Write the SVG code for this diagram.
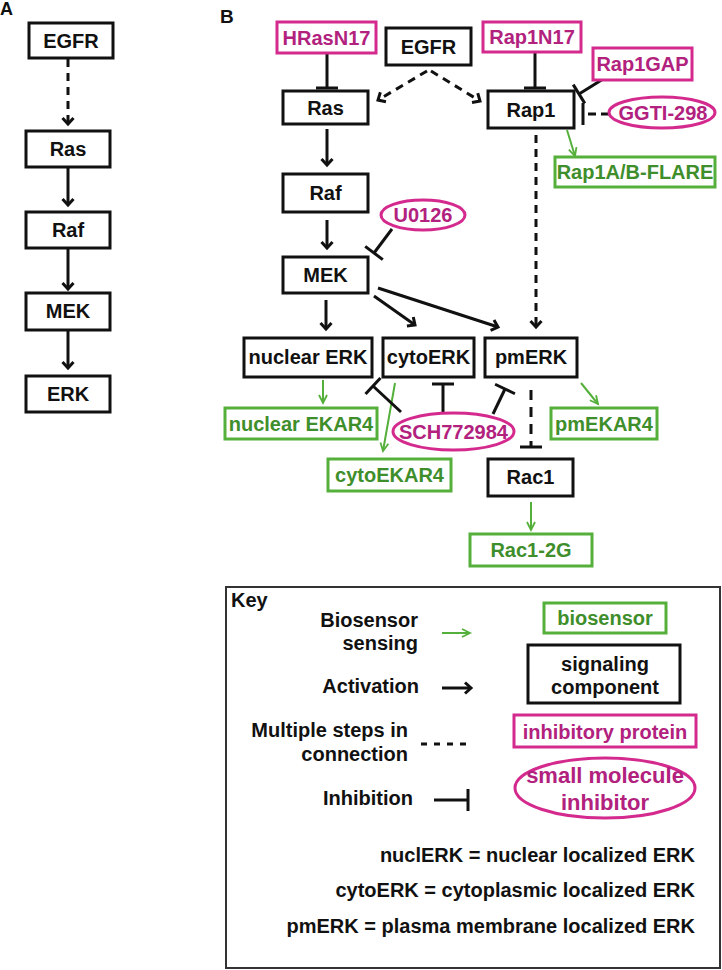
<svg xmlns="http://www.w3.org/2000/svg" width="722" height="970" viewBox="0 0 722 970">
<defs>
<style>
text{font-family:"Liberation Sans",Arial,sans-serif;font-weight:bold;font-size:20px;fill:#111}
.c{text-anchor:middle}
.e{text-anchor:end}
.bk{fill:#fff;stroke:#111;stroke-width:3}
.mg{fill:#fff;stroke:#d42a8e;stroke-width:3}
.gr{fill:#fff;stroke:#55b03b;stroke-width:3}
.mt{fill:#b1217d}
.gt{fill:#3f8e2c}
.ln{stroke:#111;stroke-width:3;fill:none}
.dl{stroke:#111;stroke-width:3;fill:none;stroke-dasharray:8 6}
.gl{stroke:#55b03b;stroke-width:2;fill:none}
.act{marker-end:url(#ah)}
.inh{marker-end:url(#ib)}
.sen{marker-end:url(#gh)}
</style>
<marker id="ah" markerUnits="userSpaceOnUse" markerWidth="16" markerHeight="16" refX="8" refY="8" orient="auto" viewBox="0 0 16 16" overflow="visible">
<path d="M2,2.5 L8,8 L2,13.5" fill="none" stroke="#111" stroke-width="3"/>
</marker>
<marker id="gh" markerUnits="userSpaceOnUse" markerWidth="16" markerHeight="16" refX="8" refY="8" orient="auto" viewBox="0 0 16 16" overflow="visible">
<path d="M0,4 L8,8 L0,12" fill="none" stroke="#55b03b" stroke-width="1.8"/>
</marker>
<marker id="ib" markerUnits="userSpaceOnUse" markerWidth="4" markerHeight="24" refX="2" refY="12" orient="auto" viewBox="0 0 4 24" overflow="visible">
<path d="M2,1 L2,23" fill="none" stroke="#111" stroke-width="3"/>
</marker>
</defs>

<text x="0" y="15" style="font-size:18px">A</text>
<text x="220" y="23" style="font-size:19px">B</text>

<g id="connectors">
<!-- panel A -->
<line class="dl act" x1="68" y1="59" x2="68" y2="124"/>
<line class="ln act" x1="68" y1="168" x2="68" y2="205"/>
<line class="ln act" x1="68" y1="249" x2="68" y2="289"/>
<line class="ln act" x1="68" y1="331" x2="68" y2="368"/>
<!-- panel B -->
<line class="dl act" x1="427" y1="71" x2="378" y2="100"/>
<line class="dl act" x1="431" y1="71" x2="480" y2="101"/>
<line class="ln inh" x1="327" y1="54" x2="327" y2="88"/>
<line class="ln inh" x1="535" y1="53" x2="535" y2="88"/>
<line class="ln inh" x1="608" y1="76" x2="579" y2="94"/>
<line class="dl inh" x1="609" y1="114" x2="583" y2="114" style="stroke-dasharray:8 5"/>
<line class="gl sen" x1="567" y1="130" x2="575" y2="156"/>
<line class="ln act" x1="327" y1="129" x2="327" y2="165"/>
<line class="ln inh" x1="392" y1="229" x2="374" y2="253"/>
<line class="ln act" x1="327" y1="220" x2="327" y2="248"/>
<line class="ln act" x1="326" y1="300" x2="326" y2="329"/>
<line class="ln act" x1="374" y1="296" x2="415" y2="325"/>
<line class="ln act" x1="378" y1="288" x2="498" y2="327"/>
<line class="dl act" x1="536" y1="135" x2="536" y2="327"/>
<line class="gl sen" x1="323" y1="380" x2="323" y2="403"/>
<line class="gl sen" x1="395" y1="383" x2="383" y2="451"/>
<line class="ln inh" x1="401" y1="412" x2="373" y2="386"/>
<line class="ln inh" x1="443" y1="413" x2="443" y2="384"/>
<line class="ln inh" x1="493" y1="414" x2="505" y2="389"/>
<line class="dl inh" x1="531" y1="390" x2="531" y2="447" style="stroke-dasharray:10 7"/>
<line class="gl sen" x1="581" y1="383" x2="598" y2="404"/>
<line class="gl sen" x1="531" y1="502" x2="531" y2="530"/>
</g>

<!-- panel A nodes -->
<g id="A-EGFR"><rect class="bk" x="29" y="23" width="84" height="35"/><text class="c" x="71" y="48">EGFR</text></g>
<g id="A-Ras"><rect class="bk" x="26" y="131" width="84" height="36"/><text class="c" x="68" y="156">Ras</text></g>
<g id="A-Raf"><rect class="bk" x="26" y="212" width="84" height="36"/><text class="c" x="68" y="237">Raf</text></g>
<g id="A-MEK"><rect class="bk" x="26" y="293" width="84" height="37"/><text class="c" x="68" y="318">MEK</text></g>
<g id="A-ERK"><rect class="bk" x="26" y="376" width="84" height="36"/><text class="c" x="68" y="401">ERK</text></g>

<!-- panel B nodes -->
<g id="HRasN17"><rect class="mg" x="277" y="22" width="99" height="31"/><text class="c mt" x="326.5" y="45">HRasN17</text></g>
<g id="B-EGFR"><rect class="bk" x="386" y="28" width="85" height="37"/><text class="c" x="428.5" y="54">EGFR</text></g>
<g id="Rap1N17"><rect class="mg" x="483" y="22" width="98" height="30"/><text class="c mt" x="532" y="44">Rap1N17</text></g>
<g id="Rap1GAP"><rect class="mg" x="593" y="48" width="99" height="32"/><text class="c mt" x="642.5" y="71">Rap1GAP</text></g>
<g id="B-Ras"><rect class="bk" x="283" y="91" width="85" height="33"/><text class="c" x="325.5" y="115">Ras</text></g>
<g id="Rap1"><rect class="bk" x="488" y="91" width="86" height="37"/><text class="c" x="531" y="117">Rap1</text></g>
<g id="GGTI-298"><ellipse class="mg" cx="662" cy="112.5" rx="53" ry="15.5"/><text class="c mt" x="663" y="119.5">GGTI-298</text></g>
<g id="Rap1AB-FLARE"><rect class="gr" x="555" y="157" width="160" height="30"/><text class="c gt" x="635" y="179">Rap1A/B-FLARE</text></g>
<g id="B-Raf"><rect class="bk" x="283" y="174" width="85" height="38"/><text class="c" x="325.5" y="200">Raf</text></g>
<g id="U0126"><ellipse class="mg" cx="423" cy="215" rx="42" ry="15"/><text class="c mt" x="423" y="222">U0126</text></g>
<g id="B-MEK"><rect class="bk" x="283" y="257" width="85" height="36"/><text class="c" x="325.5" y="282">MEK</text></g>
<g id="nuclearERK"><rect class="bk" x="244" y="338" width="128" height="39"/><text class="c" x="308" y="364">nuclear ERK</text></g>
<g id="cytoERK"><rect class="bk" x="383" y="338" width="91" height="39"/><text class="c" x="428.5" y="364">cytoERK</text></g>
<g id="pmERK"><rect class="bk" x="485" y="338" width="92" height="39"/><text class="c" x="531" y="364">pmERK</text></g>
<g id="nuclearEKAR4"><rect class="gr" x="225" y="408" width="152" height="31"/><text class="c gt" x="301" y="431">nuclear EKAR4</text></g>
<g id="SCH772984"><ellipse class="mg" cx="453.5" cy="431.5" rx="60.5" ry="18.5"/><text class="c mt" x="453.5" y="438.5">SCH772984</text></g>
<g id="pmEKAR4"><rect class="gr" x="551" y="408" width="106" height="31"/><text class="c gt" x="604" y="431">pmEKAR4</text></g>
<g id="cytoEKAR4"><rect class="gr" x="328" y="459" width="123" height="32"/><text class="c gt" x="389.5" y="482">cytoEKAR4</text></g>
<g id="Rac1"><rect class="bk" x="488" y="459" width="85" height="37"/><text class="c" x="530.5" y="484">Rac1</text></g>
<g id="Rac1-2G"><rect class="gr" x="470" y="534" width="122" height="32"/><text class="c gt" x="531" y="557">Rac1-2G</text></g>

<!-- key -->
<g id="key">
<rect x="226" y="587" width="494" height="381" fill="none" stroke="#333" stroke-width="2"/>
<text x="231" y="607">Key</text>
<text class="e" x="418" y="627">Biosensor</text>
<text class="e" x="418" y="650">sensing</text>
<line class="gl sen" x1="442" y1="633" x2="470" y2="633"/>
<rect class="gr" x="544" y="603" width="122" height="30"/><text class="c gt" x="605" y="625">biosensor</text>
<text class="e" x="419" y="693">Activation</text>
<line class="ln act" x1="442" y1="688" x2="471" y2="688"/>
<rect class="bk" x="528" y="645" width="152" height="58"/>
<text class="c" x="605" y="671">signaling</text>
<text class="c" x="605" y="694">component</text>
<text class="e" x="408" y="737">Multiple steps in</text>
<text class="e" x="408" y="761">connection</text>
<line class="dl" x1="421" y1="744" x2="470" y2="744" style="stroke-dasharray:6 7"/>
<rect class="mg" x="514" y="715" width="182" height="32"/><text class="c mt" x="605" y="739">inhibitory protein</text>
<text class="e" x="413" y="805">Inhibition</text>
<line class="ln" x1="434" y1="800" x2="468" y2="800"/>
<line class="ln" x1="468" y1="789" x2="468" y2="811"/>
<ellipse class="mg" cx="605" cy="788" rx="90" ry="30"/>
<text class="c mt" x="605" y="783" style="font-size:22px">small molecule</text>
<text class="c mt" x="605" y="810" style="font-size:22px">inhibitor</text>
<text class="e" x="695" y="862">nuclERK = nuclear localized ERK</text>
<text class="e" x="695" y="897">cytoERK = cytoplasmic localized ERK</text>
<text class="e" x="695" y="933">pmERK = plasma membrane localized ERK</text>
</g>
</svg>
